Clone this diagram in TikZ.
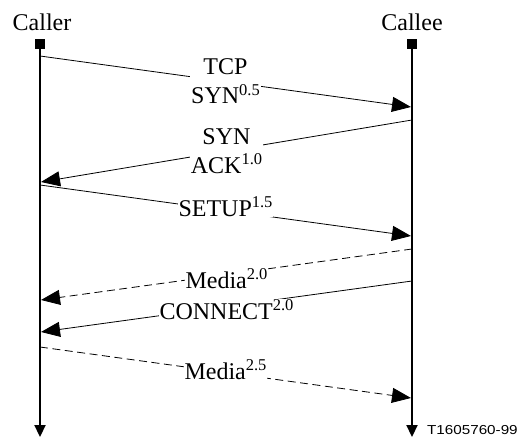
\documentclass[tikz,border=0pt]{standalone}
\usepackage{fontspec}
\setmainfont{Liberation Serif}
\newfontfamily\figsans{Liberation Sans}
\usetikzlibrary{arrows.meta, positioning}
\newcommand{\expo}[1]{\raisebox{8.5pt}{\fontsize{16.5}{18}\selectfont #1}}

\begin{document}
\begin{tikzpicture}[
            x=1pt, y=-1pt,
            font=\fontsize{24}{29}\selectfont,
            lifeline/.style={line width=2.2pt, -{Triangle[length=12pt, width=11pt]}},
            endpoint/.style={fill=black, minimum size=10pt, inner sep=0pt},
            party/.style={inner sep=0pt},
            msg/.style={line width=0.8pt, -{Triangle[length=19pt, width=15pt]}},
            media/.style={msg, dash pattern=on 8pt off 4.5pt},
            msglabel/.style={midway, fill=white, inner sep=1pt, align=center}
        ]
        \def\xCaller{40}
        \def\xCallee{412}
        \useasboundingbox (0,0) rectangle (520,439);

        % parties and their time lines
        \node[endpoint] (callerTop) at (\xCaller, 43.5) {};
        \node[endpoint] (calleeTop) at (\xCallee, 43.5) {};
        \node[party, above=7pt of callerTop, xshift=2pt] (caller) {Caller};
        \node[party, above=7pt of calleeTop] (callee) {Callee};
        \coordinate (callerEnd) at (\xCaller, 437);
        \coordinate (calleeEnd) at (\xCallee, 437);
        \draw[lifeline] (callerTop.south) -- (callerEnd);
        \draw[lifeline] (calleeTop.south) -- (calleeEnd);

        % messages
        \coordinate (synFrom) at (\xCaller, 56);
        \coordinate (synTo) at (\xCallee-1, 107);
        \draw[msg] (synFrom) -- (synTo) node[msglabel] (syn) {TCP\\SYN\expo{0.5}};

        \coordinate (ackFrom) at (\xCallee, 120);
        \coordinate (ackTo) at (\xCaller+1, 182);
        \draw[msg] (ackFrom) -- (ackTo) node[msglabel] (ack) {SYN\\ACK\expo{1.0}};

        \coordinate (setupFrom) at (\xCaller, 185);
        \coordinate (setupTo) at (\xCallee-1, 236);
        \draw[msg] (setupFrom) -- (setupTo) node[msglabel, yshift=4pt] (setup) {SETUP\expo{1.5}};

        \coordinate (mediaAFrom) at (\xCallee, 249);
        \coordinate (mediaATo) at (\xCaller+1, 300);
        \draw[media] (mediaAFrom) -- (mediaATo) node[msglabel, yshift=-4pt] (mediaA) {Media\expo{2.0}};

        \coordinate (connFrom) at (\xCallee, 281);
        \coordinate (connTo) at (\xCaller+1, 332);
        \draw[msg] (connFrom) -- (connTo) node[msglabel, yshift=-3pt] (conn) {CONNECT\expo{2.0}};

        \coordinate (mediaBFrom) at (\xCaller, 347);
        \coordinate (mediaBTo) at (\xCallee-1, 398);
        \draw[media] (mediaBFrom) -- (mediaBTo) node[msglabel, yshift=3pt] (mediaB) {Media\expo{2.5}};

        \node[anchor=base west, inner sep=0pt, font=\figsans\fontsize{13}{15}\selectfont] (figid)
            at (427, 434.3) {\scalebox{1.17}[1]{T1605760-99}};
    \end{tikzpicture}
\end{document}
